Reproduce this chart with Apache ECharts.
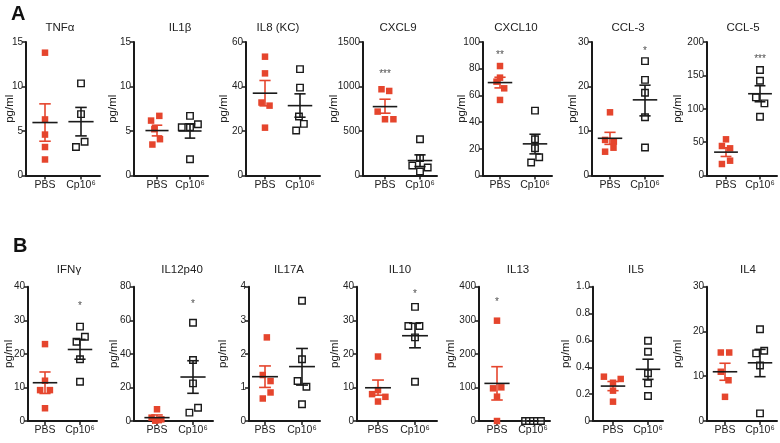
<!DOCTYPE html>
<html><head><meta charset="utf-8">
<script src="https://cdn.jsdelivr.net/npm/echarts@6/dist/echarts.min.js"></script>
<style>html,body{margin:0;padding:0;background:#fff}#c{width:780px;height:443px}</style>
</head><body><div id="c"></div>
<script>
// ---------- DATA ----------
const categories = ['PBS', 'Cp10⁶'];
const titles = ['TNFα','IL1β','IL8 (KC)','CXCL9','CXCL10','CCL-3','CCL-5','IFNγ','IL12p40','IL17A','IL10','IL13','IL5','IL4'];
const yMaxs = [15,15,60,1500,100,30,200,40,80,4,40,400,1.0,30];
const ySteps = [5,5,20,500,20,10,50,10,20,1,10,100,0.2,10];

// individual points (y values) and their horizontal jitter (in category units)
const tnfPBS = [13.8, 6.3, 4.6, 3.2, 1.8];           const tnfPBSx = [0, 0, 0, 0, 0];
const tnfCp = [10.35, 6.9, 3.8, 3.2];                const tnfCpx = [0, 0, 0.1, -0.14];
const il1bPBS = [6.7, 6.17, 5.2, 4.08, 3.48];        const il1bPBSx = [0.07, -0.18, -0.08, 0.09, -0.14];
const il1bCp = [6.7, 5.42, 5.42, 5.76, 1.83];        const il1bCpx = [0, -0.25, 0, 0.24, 0];
const il8PBS = [53.4, 45.9, 32.8, 31.4, 21.5];       const il8PBSx = [0, 0, -0.1, 0.13, 0];
const il8Cp = [47.8, 39.5, 26.5, 23.2, 20.2];        const il8Cpx = [0, 0, -0.03, 0.11, -0.11];
const cxcl9PBS = [969, 950, 718, 632, 632];          const cxcl9PBSx = [-0.1, 0.12, -0.21, 0, 0.24];
const cxcl9Cp = [408, 195, 112, 90, 45];             const cxcl9Cpx = [0, 0, -0.22, 0.22, 0];
const cxcl10PBS = [82, 73.3, 70.3, 65.3, 56.6];      const cxcl10PBSx = [0, 0, -0.1, 0.12, 0];
const cxcl10Cp = [48.6, 27.2, 20.4, 13.7, 9.7];      const cxcl10Cpx = [0, 0, 0, 0.12, -0.11];
const ccl3PBS = [14.2, 8.0, 7.6, 6.25, 5.35];        const ccl3PBSx = [0, -0.14, 0.11, 0.1, -0.14];
const ccl3Cp = [25.7, 21.5, 18.6, 13.1, 6.3];        const ccl3Cpx = [0, 0, 0, 0, 0];
const ccl5PBS = [54.2, 44.2, 40.7, 22.2, 17.2];      const ccl5PBSx = [0, -0.12, 0.12, 0.12, -0.12];
const ccl5Cp = [158, 142, 117, 108, 88];             const ccl5Cpx = [0, 0, -0.12, 0.13, 0];
const ifngPBS = [22.9, 12.0, 9.2, 9.2, 3.8];         const ifngPBSx = [0, 0, -0.14, 0.14, 0];
const ifngCp = [28.1, 25.1, 23.6, 18.4, 11.7];       const ifngCpx = [0, 0.14, -0.1, 0, 0];
const il12PBS = [7.0, 2.0, 1.0, 0.5, 0.2];           const il12PBSx = [0, -0.15, 0.12, 0.05, -0.05];
const il12Cp = [58.5, 36.3, 22.4, 7.9, 5.0];         const il12Cpx = [0, 0, 0, 0.14, -0.1];
const il17PBS = [2.49, 1.37, 1.19, 0.85, 0.67];      const il17PBSx = [0.05, -0.06, 0.15, 0.15, -0.06];
const il17Cp = [3.58, 1.84, 1.19, 1.02, 0.5];        const il17Cpx = [0, 0, -0.12, 0.12, 0];
const il10PBS = [19.2, 9.2, 8.0, 7.2, 5.8];          const il10PBSx = [0, 0, -0.16, 0.2, 0];
const il10Cp = [34.0, 28.3, 28.3, 24.9, 11.7];       const il10Cpx = [0, -0.18, 0.12, 0, 0];
const il13PBS = [298.8, 100.2, 97.3, 72.5, 0];       const il13PBSx = [0, 0.12, -0.11, 0, 0];
const il13Cp = [0, 0, 0, 0, 0];                      const il13Cpx = [-0.22, -0.11, 0, 0.11, 0.22];
const il5PBS = [0.33, 0.313, 0.285, 0.226, 0.144];   const il5PBSx = [-0.26, 0.22, 0, 0, 0];
const il5Cp = [0.598, 0.516, 0.355, 0.28, 0.186];    const il5Cpx = [0, 0, 0, 0, 0];
const il4PBS = [15.3, 15.3, 11.0, 9.1, 5.4];         const il4PBSx = [-0.12, 0.12, -0.12, 0.1, 0];
const il4Cp = [20.5, 15.7, 15.1, 12.4, 1.7];         const il4Cpx = [0, 0.12, -0.11, 0, 0];

// mean and SEM bounds
const meanPBS = [5.95, 5.05, 37, 774, 69.6, 8.36, 35, 11.4, 2.0, 1.32, 9.9, 112, 0.26, 11.0];
const loPBS   = [3.85, 4.45, 31.3, 700, 65.6, 7.0, 28.5, 8.2, 0.6, 1.0, 7.7, 62.5, 0.226, 9.1];
const hiPBS   = [8.05, 5.65, 42.7, 857, 73.6, 9.7, 41.5, 14.6, 3.6, 1.64, 12.2, 161.8, 0.294, 12.9];
const meanCp  = [6.05, 5.0, 31.4, 168, 23.7, 17.0, 122.5, 21.3, 26.2, 1.62, 25.4, 0, 0.385, 13.0];
const loCp    = [4.45, 4.2, 26.2, 101, 16.2, 13.4, 110.5, 18.4, 16.5, 1.07, 21.8, 0, 0.31, 9.9];
const hiCp    = [7.65, 5.8, 36.7, 232, 30.9, 20.3, 134.5, 24.3, 35.9, 2.16, 29.1, 0, 0.46, 16.0];

// significance stars: text, group (1 = PBS, 2 = Cp), y value
const starText  = ['', '', '', '***', '**', '*', '***', '*', '*', '', '*', '*', '', ''];
const starGroup = [0, 0, 0, 1, 1, 2, 2, 2, 2, 0, 2, 1, 0, 0];
const starY     = [0, 0, 0, 1166, 92.3, 28.6, 178, 35.1, 71.5, 0, 38.5, 362, 0, 0];

const pbsSets = [tnfPBS, il1bPBS, il8PBS, cxcl9PBS, cxcl10PBS, ccl3PBS, ccl5PBS, ifngPBS, il12PBS, il17PBS, il10PBS, il13PBS, il5PBS, il4PBS];
const pbsJit  = [tnfPBSx, il1bPBSx, il8PBSx, cxcl9PBSx, cxcl10PBSx, ccl3PBSx, ccl5PBSx, ifngPBSx, il12PBSx, il17PBSx, il10PBSx, il13PBSx, il5PBSx, il4PBSx];
const cpSets  = [tnfCp, il1bCp, il8Cp, cxcl9Cp, cxcl10Cp, ccl3Cp, ccl5Cp, ifngCp, il12Cp, il17Cp, il10Cp, il13Cp, il5Cp, il4Cp];
const cpJit   = [tnfCpx, il1bCpx, il8Cpx, cxcl9Cpx, cxcl10Cpx, ccl3Cpx, ccl5Cpx, ifngCpx, il12Cpx, il17Cpx, il10Cpx, il13Cpx, il5Cpx, il4Cpx];

// ---------- LAYOUT ----------
const gridL  = [26,134,246,363,483,592,707, 28,134,249,357,479,593,707];
const gridR  = [100,208,320,437,552,663,777, 97,213,320,437,550,663,777];
const pbsPx  = [45,157,265,385,500,610,726, 45,157,265,378,497,613,725];
const cpPx   = [81,190,300,420,535,645,760, 80,193,302,415,533,648,760];
const nameCx = [9,111.7,223,333.3,460.7,571.7,677.3, 8,113.3,222,334.3,450,565,676.7];
const titleCx= [60,180,278,398,516,628,743, 69,182,289,400,518,636,748];
const rowTop = [42, 286.7], rowH = [133.5, 134.3], titleCy = [28, 270];

const RED = '#e5452d', INK = '#1a1a1a';
const FONT = 'Liberation Sans, Arial, Helvetica, sans-serif';

function errRender(color) {
  return function (params, api) {
    const x = api.value(0), m = api.value(1), lo = api.value(2), hi = api.value(3);
    const pm = api.coord([x, m]), pl = api.coord([x, lo]), ph = api.coord([x, hi]);
    const unit = api.size([1, 0])[0];
    const wM = unit * 0.35, wC = unit * 0.16;
    const st = { stroke: color, lineWidth: 1.6 };
    const stM = { stroke: INK, lineWidth: 1.6 };
    return { type: 'group', children: [
      { type: 'line', shape: { x1: pl[0], y1: pl[1], x2: ph[0], y2: ph[1] }, style: st },
      { type: 'line', shape: { x1: pl[0]-wC, y1: pl[1], x2: pl[0]+wC, y2: pl[1] }, style: st },
      { type: 'line', shape: { x1: ph[0]-wC, y1: ph[1], x2: ph[0]+wC, y2: ph[1] }, style: st },
      { type: 'line', shape: { x1: pm[0]-wM, y1: pm[1], x2: pm[0]+wM, y2: pm[1] }, style: stM }
    ]};
  };
}

const grid = [], xAxis = [], yAxis = [], series = [], title = [];
for (let i = 0; i < 14; i++) {
  const row = i < 7 ? 0 : 1;
  const L = gridL[i], R = gridR[i], p = pbsPx[i], c = cpPx[i];
  const span = c - p;
  const xmin = 1 - (p - L) / span;
  const xmax = xmin + (R - L) / span;
  grid.push({ left: L, top: rowTop[row], width: R - L, height: rowH[row] });
  xAxis.push({
    gridIndex: i, type: 'value', min: xmin, max: xmax,
    axisLine: { show: true, onZero: false, lineStyle: { color: INK, width: 2 } },
    axisTick: { show: true, customValues: [1, 2], length: 4, lineStyle: { color: INK, width: 1.5 } },
    axisLabel: { show: true, customValues: [1, 2], margin: 4, fontSize: 10.5, color: '#222', fontFamily: FONT,
      formatter: v => categories[Math.round(v) - 1] || '' },
    splitLine: { show: false }
  });
  const step = ySteps[i];
  yAxis.push({
    gridIndex: i, type: 'value', min: 0, max: yMaxs[i], interval: step,
    name: 'pg/ml', nameLocation: 'middle', nameGap: (L - nameCx[i]) - 7, nameMoveOverlap: false,
    nameTextStyle: { fontSize: 11.5, color: '#222', fontFamily: FONT },
    axisLine: { show: true, onZero: false, lineStyle: { color: INK, width: 2 } },
    axisTick: { show: true, length: 4, lineStyle: { color: INK, width: 1.5 } },
    axisLabel: { margin: 3, fontSize: 10, color: '#222', fontFamily: FONT,
      formatter: v => v === 0 ? '0' : (step < 1 ? v.toFixed(1) : String(v)) },
    splitLine: { show: false }
  });
  title.push({ text: titles[i], left: titleCx[i], top: titleCy[row] - 6.5, textAlign: 'center', padding: 0,
    textStyle: { fontSize: 11.5, fontWeight: 'normal', color: '#222', fontFamily: FONT } });

  series.push({
    type: 'scatter', xAxisIndex: i, yAxisIndex: i, symbol: 'rect', symbolSize: 6.5, z: 3,
    itemStyle: { color: RED, opacity: 1 },
    data: pbsSets[i].map((v, k) => [1 + pbsJit[i][k], v])
  });
  series.push({
    type: 'scatter', xAxisIndex: i, yAxisIndex: i, symbol: 'rect', symbolSize: 6.5, z: 3,
    itemStyle: { color: '#fff', borderColor: INK, borderWidth: 1.4, opacity: 1 },
    data: cpSets[i].map((v, k) => [2 + cpJit[i][k], v])
  });
  series.push({
    type: 'custom', xAxisIndex: i, yAxisIndex: i, z: 4, renderItem: errRender(RED),
    data: [[1, meanPBS[i], loPBS[i], hiPBS[i]]]
  });
  series.push({
    type: 'custom', xAxisIndex: i, yAxisIndex: i, z: 4, renderItem: errRender(INK),
    data: [[2, meanCp[i], loCp[i], hiCp[i]]]
  });
  if (starText[i]) {
    series.push({
      type: 'scatter', xAxisIndex: i, yAxisIndex: i, symbolSize: 0, z: 5,
      label: { show: true, position: 'inside', offset: [0, 3], formatter: starText[i],
        fontSize: 10, color: '#222', fontFamily: FONT },
      data: [[starGroup[i], starY[i]]]
    });
  }
}

const chart = echarts.init(document.getElementById('c'), null, { renderer: 'canvas' });
chart.setOption({
  animation: false,
  backgroundColor: '#fff',
  title, grid, xAxis, yAxis, series,
  graphic: [
    { type: 'text', left: 11, top: 4, style: { text: 'A', font: 'bold 20px ' + FONT, fill: '#111' } },
    { type: 'text', left: 13, top: 236, style: { text: 'B', font: 'bold 20px ' + FONT, fill: '#111' } }
  ]
});
</script>
</body></html>
